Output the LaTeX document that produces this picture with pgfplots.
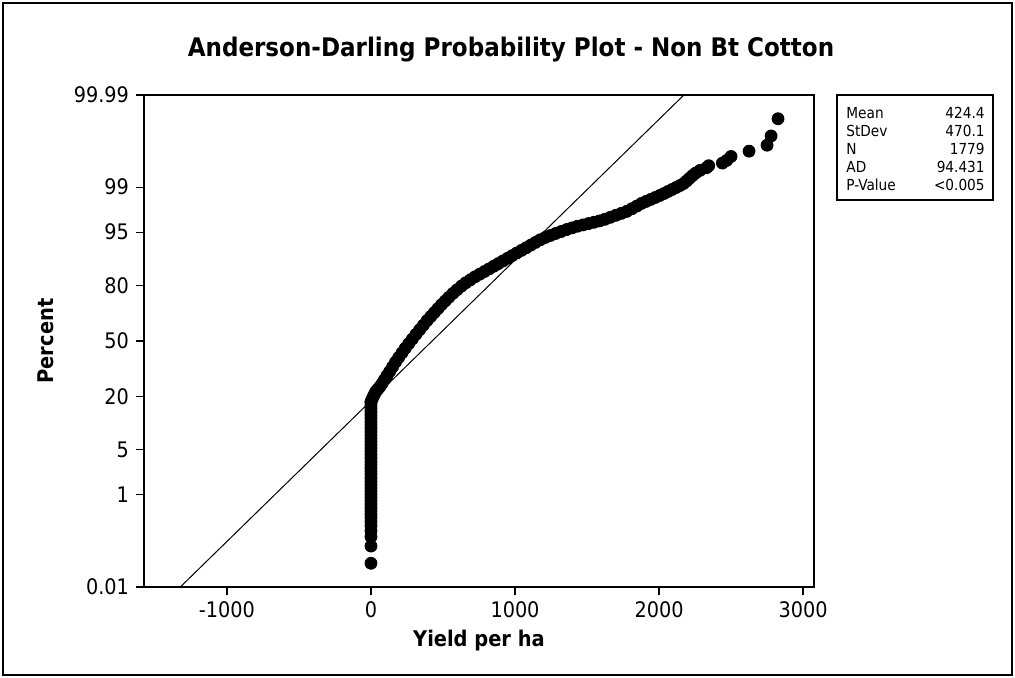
\documentclass[border=0pt]{standalone}
\usepackage{pgfplots}
\pgfplotsset{compat=1.18}
\usepackage{fontspec}
\setmainfont{DejaVu Sans Condensed}
\begin{document}
\begin{tikzpicture}[x=1pt,y=1pt]
\useasboundingbox (0,0) rectangle (507.5,-339);
\draw[line width=1pt] (1.5,-1.5) rectangle (506,-337.5);
\node[font=\fontsize{12.8}{15}\selectfont\bfseries] at (255.5,-25) {Anderson-Darling Probability Plot - Non Bt Cotton};
\begin{axis}[
    at={(72pt,-47.5pt)}, anchor=north west,
    width=335pt, height=246pt, scale only axis,
    xmin=-1576, xmax=3076, ymin=-3.719, ymax=3.719,
    axis line style={line width=0.75pt},
    tick align=outside, xtick pos=left, ytick pos=left,
    major tick length=4pt, tick style={line width=0.6pt, black},
    xtick={-1000,0,1000,2000,3000},
    xticklabels={-1000,0,1000,2000,3000},
    ytick={-3.719,-2.326,-1.645,-0.8416,0,0.8416,1.645,2.326,3.719},
    yticklabels={0.01,1,5,20,50,80,95,99,99.99},
    ticklabel style={font=\fontsize{10.7}{12}\selectfont},
    xlabel={Yield per ha}, ylabel={Percent},
    label style={font=\fontsize{10.8}{12}\selectfont\bfseries},
    xlabel style={yshift=1pt},
    ylabel style={yshift=3pt},
    clip=true,
]
% fitted normal line (mean 424.4, sd 470.1)
\addplot[black, line width=0.5pt] coordinates {(-1323.9,-3.719) (2172.7,3.719)};
% zero yields
\addplot[only marks, mark=*, mark size=3pt, black] coordinates {
(0,-3.36) (0,-3.10) (0,-2.96) (0,-2.87) (0,-2.79) (0,-2.73) (0,-2.67) (0,-2.62)
(0,-2.57) (0,-2.52) (0,-2.47) (0,-2.42) (0,-2.37) (0,-2.32) (0,-2.27) (0,-2.22)
(0,-2.17) (0,-2.12) (0,-2.07) (0,-2.02) (0,-1.97) (0,-1.92) (0,-1.87) (0,-1.82)
(0,-1.77) (0,-1.72) (0,-1.67) (0,-1.62) (0,-1.57) (0,-1.52) (0,-1.47) (0,-1.42)
(0,-1.37) (0,-1.32) (0,-1.27) (0,-1.22) (0,-1.17) (0,-1.12) (0,-1.07) (0,-1.02)
(0,-0.97) (0,-0.92)
};
% positive yields
\addplot[only marks, mark=*, mark size=3pt, black] coordinates {
(0,-0.92) (8,-0.88) (16,-0.84) (25,-0.80) (35,-0.76) (47,-0.73) (62,-0.69) (78,-0.64)
(95,-0.58) (112,-0.52) (130,-0.46) (150,-0.39) (170,-0.32) (192,-0.25) (215,-0.18)
(238,-0.11) (262,-0.04) (287,0.03) (312,0.10) (338,0.17) (364,0.24) (390,0.31)
(415,0.37) (440,0.43) (465,0.49) (490,0.55) (515,0.605) (540,0.66) (569,0.72)
(598,0.775) (628,0.83) (658,0.88) (690,0.925) (722,0.97) (755,1.01) (788,1.05)
(820,1.09) (852,1.13) (884,1.17) (916,1.21) (948,1.25) (980,1.29) (1012,1.33)
(1045,1.37) (1078,1.41) (1110,1.45) (1142,1.49) (1175,1.53) (1210,1.565) (1245,1.595)
(1282,1.625) (1320,1.655) (1358,1.685) (1396,1.71) (1434,1.735) (1472,1.755) (1510,1.775)
(1548,1.795) (1586,1.815) (1624,1.84) (1662,1.87) (1700,1.90) (1738,1.93) (1776,1.96)
(1812,2.00) (1846,2.04) (1878,2.08) (1910,2.11) (1942,2.14) (1974,2.17) (2005,2.20)
(2035,2.23) (2062,2.26) (2090,2.29) (2118,2.32) (2145,2.35) (2170,2.38) (2192,2.42)
(2212,2.46) (2232,2.50) (2255,2.54) (2285,2.58) (2330,2.62) (2345,2.65) (2440,2.69)
(2470,2.73) (2500,2.79) (2625,2.87) (2750,2.96) (2778,3.10) (2826,3.36)
};
\end{axis}
% statistics box
\draw[line width=0.6pt] (418.5,-47.5) rectangle (496.5,-100);
\begin{scope}[every node/.style={font=\fontsize{7.6}{9}\selectfont, inner sep=0pt}]
\node[anchor=west] at (423,-56.5) {Mean};     \node[anchor=east] at (492.5,-56.5) {424.4};
\node[anchor=west] at (423,-65.5) {StDev};    \node[anchor=east] at (492.5,-65.5) {470.1};
\node[anchor=west] at (423,-74.5) {N};        \node[anchor=east] at (492.5,-74.5) {1779};
\node[anchor=west] at (423,-83.5) {AD};       \node[anchor=east] at (492.5,-83.5) {94.431};
\node[anchor=west] at (423,-92.5) {P-Value};  \node[anchor=east] at (492.5,-92.5) {<0.005};
\end{scope}
\end{tikzpicture}
\end{document}
